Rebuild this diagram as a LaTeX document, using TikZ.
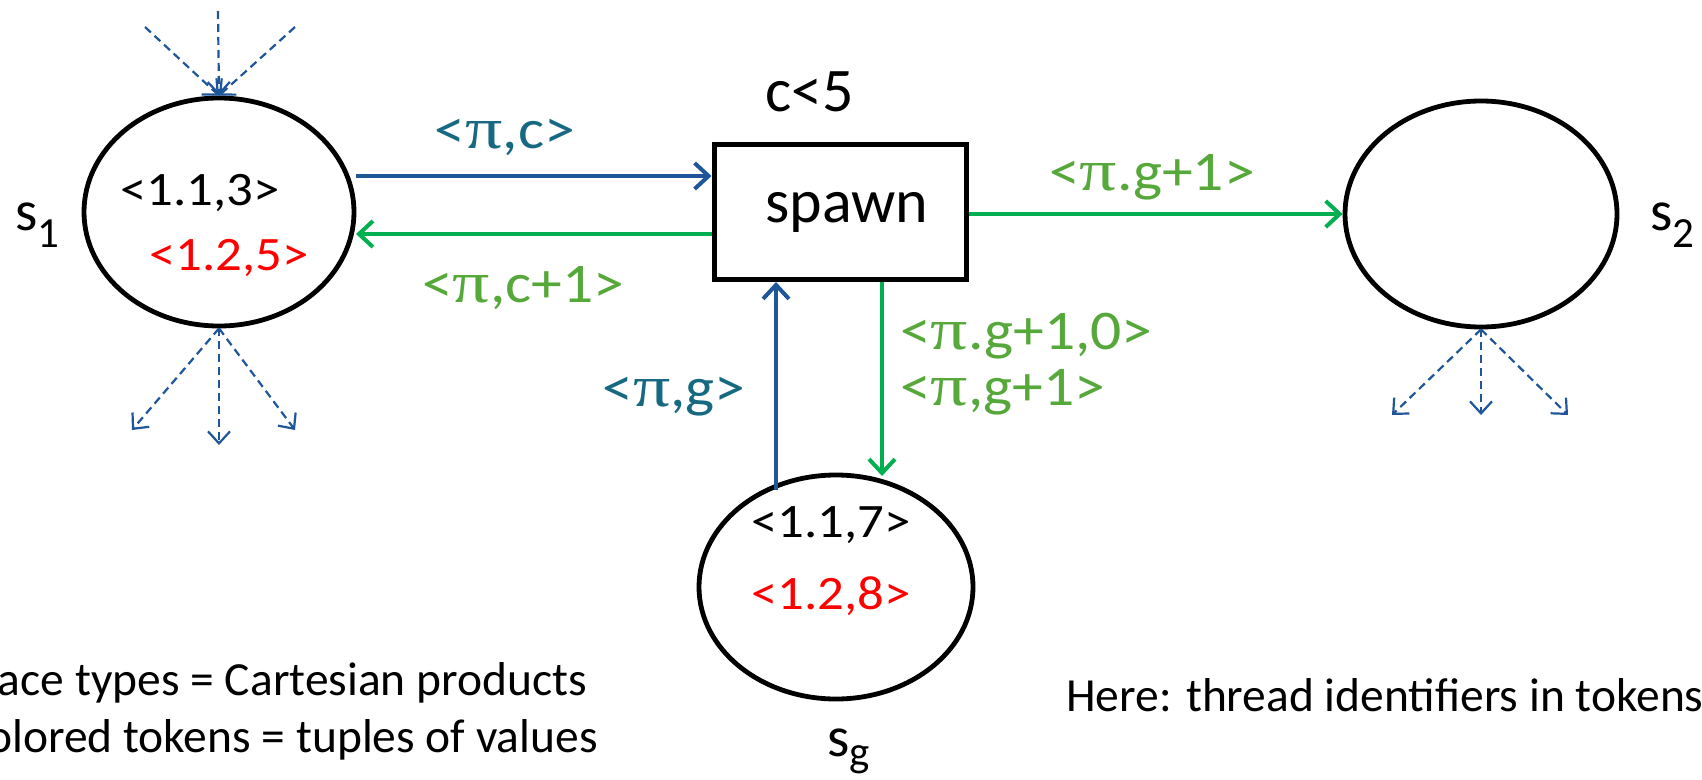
\documentclass[tikz,border=0pt]{standalone}
\usepackage{fontspec}
\usepackage{graphicx}
\setmainfont{Carlito}
\newfontfamily\pifont{Liberation Serif}
\usetikzlibrary{arrows.meta,shapes.geometric}
\definecolor{arrblue}{RGB}{31,86,153}
\definecolor{lblblue}{RGB}{23,105,130}
\definecolor{arrgreen}{RGB}{0,176,80}
\definecolor{lblgreen}{RGB}{86,168,58}
\definecolor{tokred}{RGB}{255,0,0}
\newcommand{\mypi}{{\pifont\scalebox{1.2}[1.05]{π}}}
\newcommand{\fs}[1]{\fontsize{#1}{#1}\selectfont}
\newcommand{\wide}[1]{\scalebox{1.1}[1]{#1}}
\begin{document}
\begin{tikzpicture}[x=1pt,y=-1pt,
  place/.style={ellipse, draw=black, line width=4.8pt, fill=white, inner sep=0pt},
  trans/.style={rectangle, draw=black, line width=5pt, fill=white, inner sep=0pt},
  flowblue/.style={draw=arrblue, line width=4pt, -{Straight Barb[length=14pt,width=26pt]}},
  flowgreen/.style={draw=arrgreen, line width=4pt, -{Straight Barb[length=14pt,width=26pt]}},
  dashflow/.style={draw=arrblue, line width=2.2pt, dash pattern=on 8pt off 5pt, -{Straight Barb[length=12pt,width=22pt]}},
  token/.style={inner sep=0pt, font=\fs{48}},
  lbl/.style={inner sep=0pt, font=\fs{56}},
  note/.style={inner sep=0pt, font=\fs{47.5}},
  pname/.style={inner sep=0pt, anchor=base west, font=\fs{57}}
]
\useasboundingbox (0,0) rectangle (1702,779);
\fill[white] (0,0) rectangle (1702,779);

% places and transition
\node[place, minimum width=270pt, minimum height=228pt] (s1) at (219,212) {};
\node[place, minimum width=272pt, minimum height=226pt] (s2) at (1481,214) {};
\node[place, minimum width=274pt, minimum height=224pt] (sg) at (836,587) {};
\node[trans, minimum width=252pt, minimum height=135pt, font=\fs{62}] (box) at (840,212) {\hspace*{14pt}spawn};

% place names
\node[pname] (n1) at (15,230) {s\raisebox{-17pt}{\fs{43}1}};
\node[pname] (n2) at (1650,230) {s\raisebox{-17pt}{\fs{43}2}};
\node[pname] (ng) at (827,756) {s\raisebox{-10pt}{\fs{43}g}};

% guard
\node[inner sep=0pt, font=\fs{62}] (guard) at (810,92) {c<5};

% tokens
\node[token] (t13) at (200,193) {\wide{<1.1,3>}};
\node[token, text=tokred] (t25) at (229,258) {\wide{<1.2,5>}};
\node[token] (t17) at (831,525) {\wide{<1.1,7>}};
\node[token, text=tokred] (t28) at (831,596) {\wide{<1.2,8>}};

% connector end points
\coordinate (a1s) at (356,176);
\coordinate (a2e) at (356,234);
\coordinate (a4s) at (776,490);
\coordinate (a5e) at (882,476);

% arcs
\draw[flowblue] (a1s) -- (a1s -| box.west);
\draw[flowgreen] (a2e -| box.west) -- (a2e);
\draw[flowgreen] (box.east |- s2.west) -- (s2.west);
\draw[flowblue] (a4s) -- (a4s |- box.south);
\draw[flowgreen] (a5e |- box.south) -- (a5e);

% arc labels
\node[lbl, text=lblblue] (l1) at (505,137) {\wide{<\mypi,c>}};
\node[lbl, text=lblgreen] (l2) at (523,288) {\wide{<\mypi,c+1>}};
\node[lbl, text=lblgreen] (l3) at (1152,177) {\wide{<\mypi.g+1>}};
\node[lbl, text=lblblue] (l4) at (674,397) {\wide{<\mypi,g>}};
\node[lbl, text=lblgreen, anchor=west] (l5) at (900,336) {\wide{<\mypi.g+1,0>}};
\node[lbl, text=lblgreen, anchor=west] (l6) at (900,392) {\wide{<\mypi,g+1>}};

% environment arcs (dashed)
\coordinate (d1) at (145,27);
\coordinate (d2) at (218,11);
\coordinate (d3) at (295,27);
\draw[dashflow] (d1) -- (s1.north);
\draw[dashflow] (d2) -- (s1.north);
\draw[dashflow] (d3) -- (s1.north);
\coordinate (e1) at (132,430);
\coordinate (e2) at (219,445);
\coordinate (e3) at (295,430);
\draw[dashflow] (s1.south) -- (e1);
\draw[dashflow] (s1.south) -- (e2);
\draw[dashflow] (s1.south) -- (e3);
\coordinate (f1) at (1392,415);
\coordinate (f2) at (1481,415);
\coordinate (f3) at (1568,415);
\draw[dashflow] (s2.south) -- (f1);
\draw[dashflow] (s2.south) -- (f2);
\draw[dashflow] (s2.south) -- (f3);

% notes
\node[note, anchor=base east] (note1) at (587,695) {ace types = Cartesian products};
\node[note, anchor=base east] (note2) at (598,752) {olored tokens = tuples of values};
\node[note, anchor=base west] (note3) at (1066,711) {Here: thread identifiers in tokens};
\end{tikzpicture}
\end{document}
